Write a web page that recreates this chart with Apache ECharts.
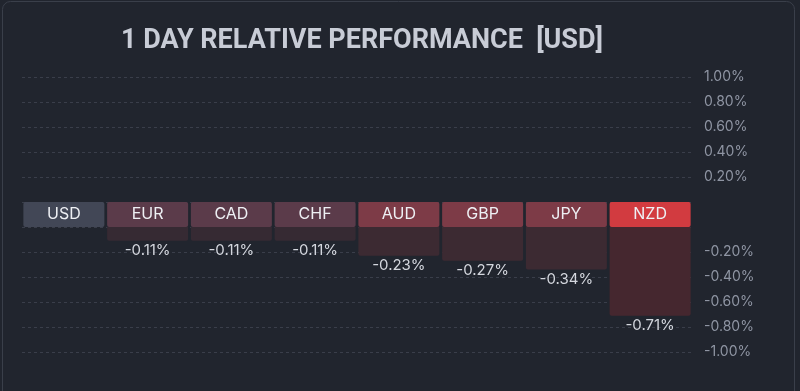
<!DOCTYPE html>
<html><head><meta charset="utf-8">
<script src="https://cdn.jsdelivr.net/npm/echarts@6/dist/echarts.min.js"></script>
<style>html,body{margin:0;padding:0;background:#21252e}#c{width:800px;height:391px}</style>
</head><body><div id="c"></div>
<script>
const categories = ['USD','EUR','CAD','CHF','AUD','GBP','JPY','NZD'];
const values = [0, -0.11, -0.11, -0.11, -0.23, -0.27, -0.34, -0.71];
const upperTicks = [0.2, 0.4, 0.6, 0.8, 1.0];
const lowerTicks = [-1.0, -0.8, -0.6, -0.4, -0.2];
const boxColors = ['#424756','#5b3b4a','#5b3b4a','#5b3b4a','#7d3b47','#7d3b47','#7d3b47','#d23b40'];
const barColors = ['rgba(0,0,0,0)','#362a33','#362a33','#362a33','#3c2a32','#3c2a32','#3c2a32','#45272f'];

const chart = echarts.init(document.getElementById('c'));
const gL = 22, gR = 108;
const yLab = {color:'#8f95a3', fontSize:14, fontFamily:'Inter', margin:12};
chart.setOption({
  backgroundColor:'#21252e',
  animation:false,
  title:{text:'1 DAY RELATIVE PERFORMANCE  [USD]', left:357, textAlign:'center', top:23,
    textStyle:{color:'#c8ccd6', fontSize:27, fontWeight:'bold', fontFamily:'Roboto'}},
  graphic:[{type:'rect', shape:{x:2.5,y:1.5,width:792,height:420,r:8}, style:{fill:'none', stroke:'#3a3f4a', lineWidth:1}, z:-1}],
  grid:[
    {left:gL, right:gR, top:77, height:125},
    {left:gL, right:gR, top:202, height:25},
    {left:gL, right:gR, top:227, height:125}
  ],
  xAxis:[0,1,2].map(i=>({type:'category', gridIndex:i, data:categories, show:false})),
  yAxis:[
    {type:'value', gridIndex:0, min:0, max:1, interval:0.2, position:'right',
      axisLine:{show:false}, axisTick:{show:false},
      axisLabel:Object.assign({}, yLab, {formatter:v=> upperTicks.some(t=>Math.abs(t-v)<1e-9) ? v.toFixed(2)+'%' : ''}),
      splitLine:{lineStyle:{color:'#3a3e4a', type:[3,3]}}},
    {type:'value', gridIndex:1, min:0, max:1, show:false},
    {type:'value', gridIndex:2, min:-1, max:0, interval:0.2, position:'right',
      axisLine:{show:false}, axisTick:{show:false},
      axisLabel:Object.assign({}, yLab, {formatter:v=> lowerTicks.some(t=>Math.abs(t-v)<1e-9) ? v.toFixed(2)+'%' : ''}),
      splitLine:{lineStyle:{color:'#3a3e4a', type:[3,3]}}}
  ],
  series:[
    {type:'bar', xAxisIndex:1, yAxisIndex:1, barWidth:81,
      data:categories.map((c,i)=>({value:1, itemStyle:{color:boxColors[i], borderRadius:2}})),
      label:{show:true, position:'inside', formatter:p=>categories[p.dataIndex], color:'#eef0f4', fontSize:16, fontFamily:'Inter'}},
    {type:'bar', xAxisIndex:2, yAxisIndex:2, barWidth:81,
      data:values.map((v,i)=>({value:v, itemStyle:{color:barColors[i], borderRadius:[0,0,2,2]},
        label:{show: v!==0}})),
      label:{show:true, position:'bottom', distance:2, formatter:p=>p.value.toFixed(2)+'%', color:'#d4d7de', fontSize:15, fontFamily:'Inter'}}
  ]
});
</script></body></html>
